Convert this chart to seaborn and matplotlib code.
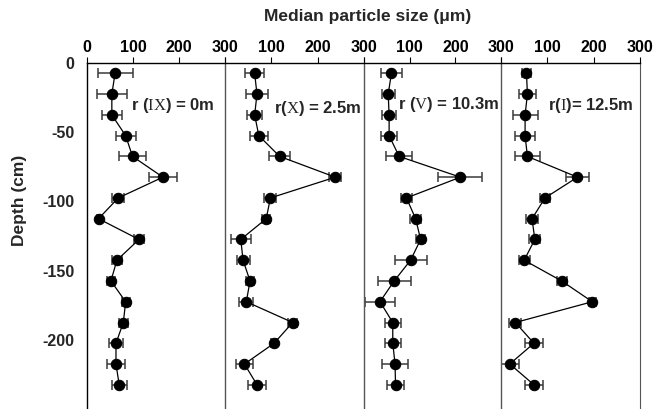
import matplotlib
matplotlib.use("Agg")
import matplotlib.pyplot as plt
import seaborn as sns
import numpy as np
import pandas as pd

# depths of the samples (cm)
depth = [-7.5, -22.5, -37.5, -52.5, -67.5, -82.5, -97.5, -112.5,
         -127.5, -142.5, -157.5, -172.5, -187.5, -202.5, -217.5, -232.5]

# median particle size (um) and error for each profile
size_ix = [61, 54, 54, 84, 99, 165, 68, 25, 113, 65, 52, 84, 79, 63, 63, 70]
err_ix = [38, 32, 22, 22, 30, 30, 13, 3, 11, 11, 9, 9, 10, 15, 19, 16]
size_x = [64, 69, 64, 73, 118, 238, 98, 89, 34, 39, 54, 46, 146, 106, 42, 69]
err_x = [20, 24, 16, 20, 22, 13, 13, 9, 22, 14, 9, 15, 9, 6, 18, 19]
size_v = [60, 53, 55, 55, 77, 211, 93, 113, 124, 102, 66, 35, 63, 63, 68, 69]
err_v = [23, 14, 15, 18, 28, 48, 13, 12, 10, 35, 36, 33, 18, 17, 29, 18]
size_i = [55, 57, 52, 52, 57, 165, 95, 67, 73, 50, 131, 197, 31, 71, 19, 71]
err_i = [9, 18, 27, 22, 27, 24, 11, 13, 12, 12, 11, 7, 13, 20, 19, 20]

labels = [r"r ($\mathrm{IX}$) = 0m", r"r($\mathrm{X}$) = 2.5m",
          r"r ($\mathrm{V}$) = 10.3m", r"r($\mathrm{I}$)= 12.5m"]
label_x = [96, 105, 75, 102]
label_y = [-31, -33, -30, -31]

sns.set_style("white")
plt.rcParams["axes.unicode_minus"] = False
plt.rcParams["font.family"] = ["Liberation Sans", "DejaVu Sans"]
plt.rcParams["mathtext.fontset"] = "custom"
plt.rcParams["mathtext.rm"] = "Liberation Serif"

fig = plt.figure(figsize=(6.65, 4.09), dpi=100)
W, H = 665.0, 409.0
edges = [87, 225, 364, 501, 640]
top = 63

series = [(size_ix, err_ix), (size_x, err_x), (size_v, err_v), (size_i, err_i)]
for i, (vals, errs) in enumerate(series):
    ax = fig.add_axes([edges[i] / W, 0, (edges[i + 1] - edges[i]) / W, 1 - top / H])
    df = pd.DataFrame({"size": vals, "depth": depth})
    ax.errorbar(df["size"], df["depth"], xerr=errs, fmt="none",
                ecolor="#3a3a3a", elinewidth=1.1, capsize=3.5, capthick=1.1, zorder=2)
    sns.lineplot(data=df, x="size", y="depth", sort=False, orient="y",
                 color="black", linewidth=0.9, marker="o", markersize=7.5,
                 markeredgecolor="black", ax=ax, zorder=3)
    ax.set_xlim(0, 300)
    ax.set_ylim(-250, 0)
    ax.xaxis.tick_top()
    ax.set_xticks([0, 100, 200, 300])
    if i == 0:
        ax.set_xticklabels(["0", "100", "200", "300"])
        ax.set_yticks([0, -50, -100, -150, -200])
        ax.set_yticklabels(["0", "-50", "-100", "-150", "-200"])
    else:
        ax.set_xticklabels(["", "100", "200", "300"])
        ax.set_yticks([])
    ax.set_ylabel("")
    ax.set_xlabel("")
    ax.tick_params(axis="x", direction="out", length=4, width=0.8, pad=2,
                   labelsize=11.5, colors="black")
    ax.tick_params(axis="y", length=0, pad=9, labelsize=11.5)
    for lab in ax.get_xticklabels() + ax.get_yticklabels():
        lab.set_fontweight("bold")
    ax.spines["bottom"].set_visible(False)
    ax.spines["top"].set_color("black")
    ax.spines["top"].set_linewidth(1.0)
    ax.spines["left"].set_color("black" if i == 0 else "#555555")
    ax.spines["left"].set_linewidth(1.0)
    ax.spines["right"].set_visible(i == 3)
    ax.spines["right"].set_color("#555555")
    ax.text(label_x[i], label_y[i], labels[i], fontsize=12, fontweight="bold",
            va="center", ha="left")

fig.text(368 / W, 1 - 17 / H, "Median particle size (μm)", fontsize=12.5,
         fontweight="bold", ha="center", va="center")
fig.text(20 / W, 1 - 200 / H, "Depth (cm)", fontsize=12.5, fontweight="bold",
         rotation=90, ha="center", va="center")

fig.savefig("out.png", dpi=100)
